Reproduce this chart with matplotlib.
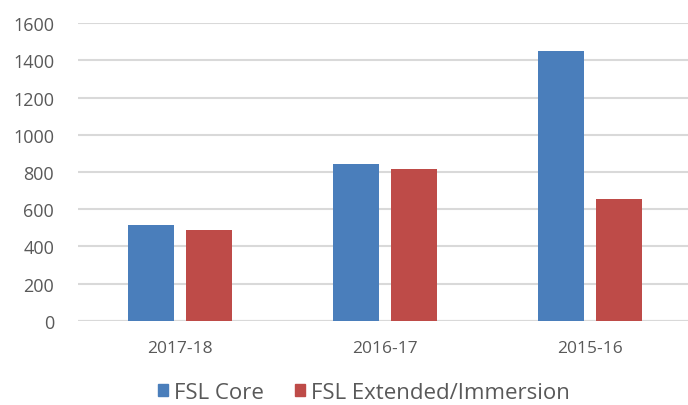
import numpy as np
import matplotlib
matplotlib.use('Agg')
import matplotlib.pyplot as plt
from matplotlib.patches import Patch

years = ['2017-18', '2016-17', '2015-16']
core = [515, 840, 1448]
extended = [486, 813, 653]

yticks = [0, 200, 400, 600, 800, 1000, 1200, 1400, 1600]

plt.rcParams['font.family'] = ['Open Sans', 'DejaVu Sans']

fig = plt.figure(figsize=(6.88, 4.06), dpi=100)
ax = fig.add_axes([0.113, 0.2076, 0.887, 0.733])

x = np.arange(len(years))
w = 0.224
off = 0.1415
blue = '#4a7ebb'
red = '#be4b48'

ax.bar(x - off, core, w, color=blue, zorder=3)
ax.bar(x + off, extended, w, color=red, zorder=3)

ax.set_xlim(-0.5, 2.48)
ax.set_ylim(0, 1600)
ax.set_yticks(yticks)
ax.set_xticks(x)
ax.set_xticklabels(years)
ax.yaxis.grid(True, color='#d9d9d9', linewidth=1.5, zorder=0)
ax.set_axisbelow(True)
for s in ax.spines.values():
	s.set_visible(False)
ax.tick_params(axis='both', length=0, colors='#595959')
ax.tick_params(axis='x', pad=14, labelsize=12.5)
ax.tick_params(axis='y', pad=17, labelsize=13)
ax.axhline(0, color='#d9d9d9', linewidth=1.5, zorder=1)

handles = [Patch(color=blue, label='FSL Core'), Patch(color=red, label='FSL Extended/Immersion')]
leg = fig.legend(handles=handles, loc='center', bbox_to_anchor=(0.529, 0.03), ncol=2, frameon=False,
	fontsize=16, handlelength=0.45, handleheight=0.45, handletextpad=0.25, columnspacing=1.4)
for t in leg.get_texts():
	t.set_color('#595959')

plt.savefig('out.png', dpi=100)
